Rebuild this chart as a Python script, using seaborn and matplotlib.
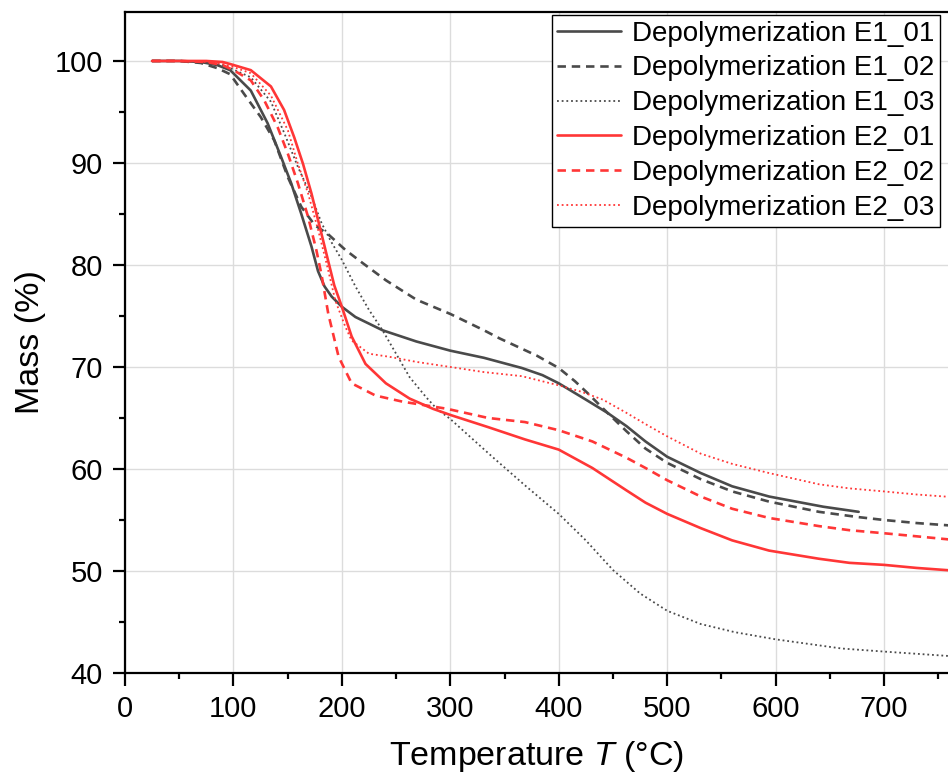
import numpy as np
import pandas as pd
import matplotlib
matplotlib.use("Agg")
import matplotlib.pyplot as plt
import seaborn as sns
from matplotlib.ticker import MultipleLocator

# ---- data ----
labels = ["Depolymerization E1_01", "Depolymerization E1_02", "Depolymerization E1_03",
          "Depolymerization E2_01", "Depolymerization E2_02", "Depolymerization E2_03"]

t_e1_01 = [25, 50, 70, 85, 97, 116, 131.5, 143.9, 153.3, 162.6, 172, 178, 184, 190.6, 200, 212.5,
           237.5, 268.7, 300, 331, 366, 385, 400, 425, 445, 462.5, 480, 500, 531, 560, 594, 644, 676.6]
m_e1_01 = [100, 100, 99.9, 99.6, 99.1, 97.1, 93.9, 90.6, 88.0, 85.0, 81.8, 79.4, 77.9, 76.9, 75.9, 74.9,
           73.6, 72.5, 71.6, 70.9, 69.9, 69.2, 68.4, 66.8, 65.5, 64.2, 62.7, 61.2, 59.6, 58.3, 57.3, 56.3, 55.8]

t_e1_02 = [25, 50, 70, 85, 97, 109.6, 125.2, 137.7, 150.2, 162.6, 175, 187.5, 203, 219, 240.6, 268.7,
           300, 331, 345.5, 380, 400, 415, 427, 445, 462.5, 480, 500, 531, 560, 594, 640, 675, 700, 730, 769]
m_e1_02 = [100, 100, 99.8, 99.3, 98.7, 96.8, 94.5, 92.2, 88.6, 85.7, 83.9, 83.0, 81.5, 80.2, 78.5, 76.6,
           75.2, 73.6, 72.8, 71.1, 69.9, 68.6, 67.4, 65.5, 63.7, 62.0, 60.6, 59.0, 57.8, 56.8, 55.8, 55.3, 55.0, 54.7, 54.4]

t_e1_03 = [25, 50, 75, 90, 97, 116, 134.6, 147, 159.5, 172, 181.3, 190, 200, 212.5, 225, 237.5, 250,
           262.5, 278, 287.5, 300, 338.7, 368.8, 400, 425, 450, 475, 500, 531, 562.5, 600, 661, 700, 769]
m_e1_03 = [100, 100, 99.9, 99.6, 99.3, 98.4, 96.0, 92.9, 89.6, 86.7, 84.1, 82.3, 80.5, 77.9, 75.6, 73.6, 71.3,
           69.0, 67.0, 65.9, 64.9, 61.2, 58.4, 55.6, 53.0, 50.1, 47.8, 46.1, 44.8, 44.0, 43.3, 42.4, 42.1, 41.6]

t_e2_01 = [25, 50, 75, 90, 97, 116, 134.6, 146.7, 156.1, 164.2, 172, 179.7, 187.6, 193, 200, 209, 221.8,
           240.6, 262.5, 284, 300, 335, 368.8, 400, 431, 462.5, 480, 500, 531, 560, 594, 640, 668, 700, 730, 769]
m_e2_01 = [100, 100, 100, 99.9, 99.7, 99.1, 97.5, 95.2, 92.5, 89.9, 87.0, 83.7, 80.3, 78.0, 75.9, 73.0, 70.3,
           68.4, 66.9, 65.9, 65.3, 64.1, 62.9, 61.9, 60.1, 57.9, 56.7, 55.6, 54.2, 53.0, 52.0, 51.2, 50.8, 50.6, 50.3, 50.0]

t_e2_02 = [25, 50, 75, 90, 100, 116, 128.6, 140.8, 150.2, 159.5, 168.9, 176.6, 181.3, 187.5, 197, 209, 231,
           256, 297, 335, 368.8, 400, 431, 462.5, 480, 500, 531, 560, 594, 640, 668, 700, 730, 769]
m_e2_02 = [100, 100, 99.9, 99.6, 99.1, 98.1, 96.1, 93.5, 90.9, 88.0, 84.7, 81.4, 79.0, 75.2, 71.0, 68.4, 67.2,
           66.6, 65.9, 65.0, 64.6, 63.8, 62.7, 61.1, 60.1, 58.9, 57.3, 56.1, 55.2, 54.4, 54.0, 53.7, 53.4, 53.0]

t_e2_03 = [25, 50, 75, 90, 100, 116, 134.6, 150.2, 159.5, 168.9, 178.2, 186, 194, 203, 209, 225, 243.7,
           268.7, 300, 331, 366, 400, 420, 440.7, 462.5, 480, 500, 531, 560, 594, 640, 668, 700, 730, 769]
m_e2_03 = [100, 100, 99.9, 99.7, 99.4, 98.8, 96.6, 93.2, 89.9, 87.0, 83.4, 80.1, 76.5, 74.0, 72.6, 71.3, 71.0,
           70.5, 70.0, 69.5, 69.1, 68.2, 67.6, 66.8, 65.5, 64.4, 63.2, 61.5, 60.5, 59.6, 58.5, 58.1, 57.8, 57.5, 57.2]

x_ticks = [0, 100, 200, 300, 400, 500, 600, 700]
y_ticks = [40, 50, 60, 70, 80, 90, 100]

series = [(t_e1_01, m_e1_01), (t_e1_02, m_e1_02), (t_e1_03, m_e1_03),
          (t_e2_01, m_e2_01), (t_e2_02, m_e2_02), (t_e2_03, m_e2_03)]

# ---- styling ----
sns.set_style("ticks")
plt.rcParams['font.family'] = ['Liberation Sans', 'DejaVu Sans']
plt.rcParams['mathtext.fontset'] = 'custom'
plt.rcParams['mathtext.it'] = 'Liberation Sans:italic'
plt.rcParams['mathtext.rm'] = 'Liberation Sans'
plt.rcParams['text.color'] = 'black'
plt.rcParams['axes.labelcolor'] = 'black'
plt.rcParams['xtick.color'] = 'black'
plt.rcParams['ytick.color'] = 'black'

gray = "#4a4a4a"
red = "#ff3636"
styles = [
    dict(color=gray, linestyle="-", linewidth=1.9),
    dict(color=gray, linestyle=(0, (3.2, 2.2)), linewidth=1.9),
    dict(color=gray, linestyle=(0, (1.0, 1.6)), linewidth=1.3),
    dict(color=red, linestyle="-", linewidth=1.9),
    dict(color=red, linestyle=(0, (3.2, 2.2)), linewidth=1.9),
    dict(color=red, linestyle=(0, (1.0, 1.6)), linewidth=1.3),
]

fig = plt.figure(figsize=(9.48, 7.8), dpi=100)
ax = fig.add_axes([125/948, 1 - 673/780, 1 - 125/948, (673 - 12)/780])

for (t, m), lab, st in zip(series, labels, styles):
    df = pd.DataFrame({"T": t, "M": m})
    sns.lineplot(data=df, x="T", y="M", ax=ax, label=lab, sort=False,
                 estimator=None, **st)

ax.set_xlim(0, 759)
ax.set_ylim(40, 104.8)
ax.set_xticks(x_ticks)
ax.set_yticks(y_ticks)
ax.xaxis.set_minor_locator(MultipleLocator(50))
ax.yaxis.set_minor_locator(MultipleLocator(5))
ax.grid(True, which="major", color="#dcdcdc", linewidth=1.0)
ax.set_axisbelow(True)

for s in ["left", "bottom", "top"]:
    ax.spines[s].set_linewidth(1.6)
    ax.spines[s].set_color("black")
ax.spines["right"].set_visible(False)

ax.tick_params(axis="both", which="major", direction="out", length=9, width=1.6,
               labelsize=21, colors="black", pad=7)
ax.tick_params(axis="both", which="minor", direction="out", length=4.5, width=1.6)
ax.tick_params(top=False, right=False, which="both")

ax.set_xlabel("Temperature $\\it{T}$ (°C)", fontsize=24.5, labelpad=11, color="black")
ax.set_ylabel("Mass (%)", fontsize=24.5, labelpad=6, color="black")

leg = ax.legend(loc="upper right", bbox_to_anchor=(940/948, 1 - 15/780),
                bbox_transform=fig.transFigure, fontsize=20, frameon=True,
                fancybox=False, edgecolor="black", borderpad=0.2,
                handlelength=2.3, handletextpad=0.4, labelspacing=0.32,
                borderaxespad=0)
leg.get_frame().set_linewidth(1.0)
leg.get_frame().set_alpha(1)
for txt in leg.get_texts():
    txt.set_color("black")

fig.savefig("out.png", dpi=100)
